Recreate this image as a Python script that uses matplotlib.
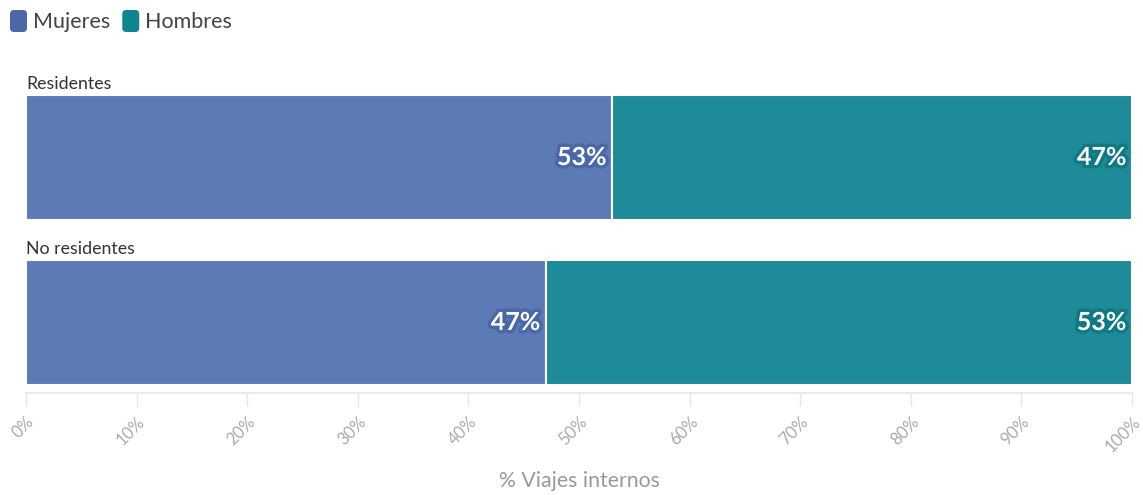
import matplotlib
matplotlib.use("Agg")
import matplotlib.pyplot as plt
import matplotlib.patheffects as pe
from matplotlib.patches import FancyBboxPatch
from matplotlib.transforms import IdentityTransform
import numpy as np

plt.rcParams['font.family'] = ['Lato', 'DejaVu Sans']

categories = ["Residentes", "No residentes"]
series_names = ["Mujeres", "Hombres"]
mujeres = [53, 47]
hombres = [47, 53]
tick_values = list(range(0, 101, 10))
tick_labels = [f"{v}%" for v in tick_values]

bar_colors = ["#5c7ab4", "#1e8c98"]
legend_colors = ["#4a67a8", "#0d8590"]
halo_colors = ["#4a67a8", "#0f7a85"]

W, H = 1143, 495
fig = plt.figure(figsize=(W / 100, H / 100), dpi=100)

bar_h = 0.758
ylo, yhi = 1.427, -0.479
ax_bottom_px = 393
ax_height_px = (ylo - yhi) * 165
ax = fig.add_axes([26 / W, 1 - ax_bottom_px / H, (1132 - 26) / W, ax_height_px / H])

y = np.arange(len(categories))
series = [mujeres, hombres]
left = np.zeros(len(categories))
for vals, col, halo in zip(series, bar_colors, halo_colors):
    vals = np.array(vals, dtype=float)
    ax.barh(y, vals, left=left, height=bar_h, color=col, edgecolor="white",
            linewidth=1.5, zorder=2)
    for yi, l, v in zip(y, left, vals):
        ax.text(l + v - 0.5, yi, f"{v:.0f}%", ha="right", va="center",
                color="white", fontsize=18, fontweight="bold", zorder=4,
                path_effects=[pe.withStroke(linewidth=5, foreground=halo)])
    left = left + vals

for yi, name in zip(y, categories):
    ax.text(0, yi - bar_h / 2 - 0.02, name, ha="left", va="bottom",
            fontsize=12.8, color="#333333")

ax.set_xlim(0, 100)
ax.set_ylim(ylo, yhi)
ax.set_yticks([])
for s in ["top", "right", "left"]:
    ax.spines[s].set_visible(False)
ax.spines["bottom"].set_color("#e6e6e6")
ax.spines["bottom"].set_linewidth(1.2)
ax.set_xticks(tick_values)
ax.set_xticklabels(tick_labels, rotation=45, ha="right", va="top",
                   rotation_mode="anchor", color="#aaaaaa", fontsize=12)
ax.tick_params(axis="x", length=9, width=1, color="#e6e6e6", pad=6)
ax.set_xlabel("% Viajes internos", color="#999999", fontsize=15.3)
ax.xaxis.set_label_coords(0.5, -(471 - ax_bottom_px) / ax_height_px)

# legend (drawn in pixel coordinates)
lx = 10
for name, col in zip(series_names, legend_colors):
    sq = FancyBboxPatch((lx, H - 32), 17, 22,
                        boxstyle="round,pad=0,rounding_size=4",
                        transform=IdentityTransform(), facecolor=col,
                        edgecolor="none")
    fig.patches.append(sq)
    t = fig.text((lx + 23) / W, 1 - 22 / H, name, ha="left", va="center",
                 fontsize=15.5, color="#444444")
    fig.canvas.draw()
    bb = t.get_window_extent()
    lx = bb.x1 + 12

fig.savefig("out.png", dpi=100)
